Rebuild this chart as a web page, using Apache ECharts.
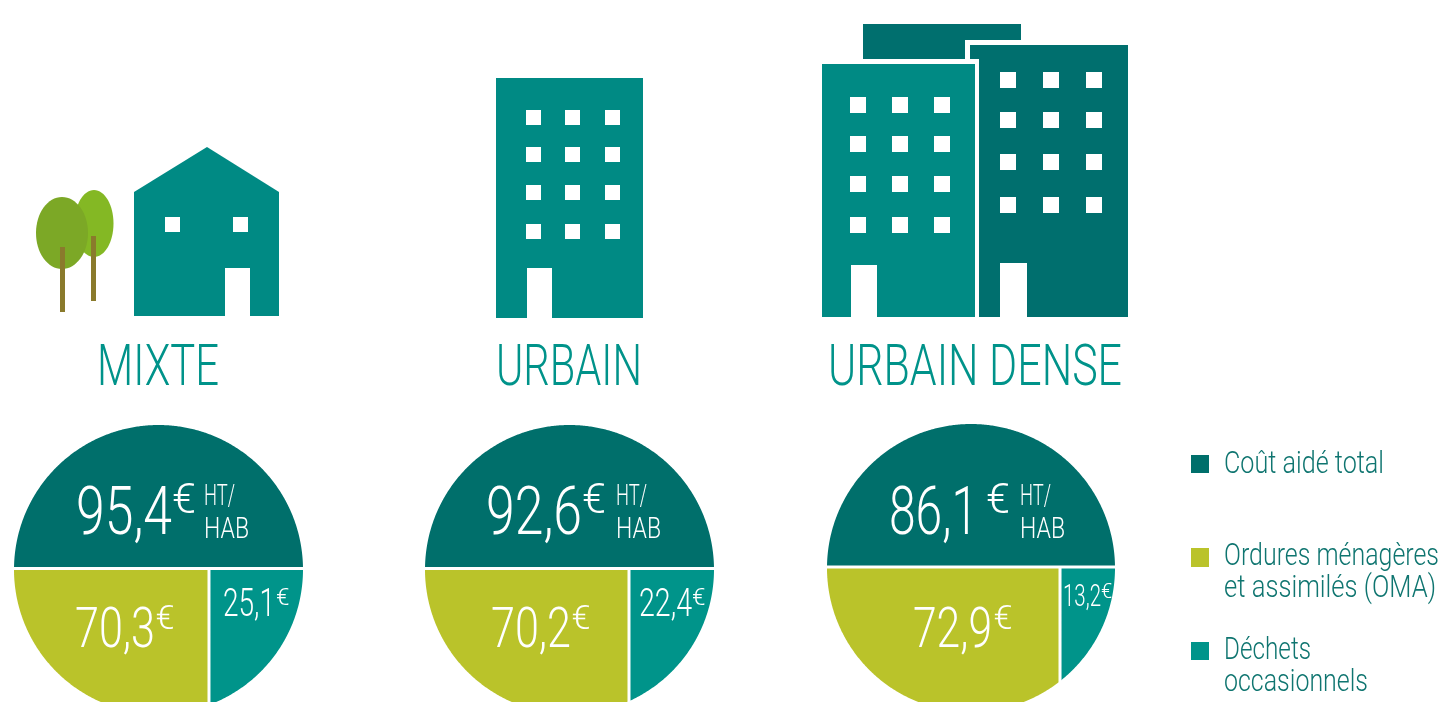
<!DOCTYPE html>
<html>
<head>
<meta charset="utf-8">
<script src="https://cdn.jsdelivr.net/npm/echarts@6/dist/echarts.min.js"></script>
<style>
html,body{margin:0;padding:0;background:#fff;overflow:hidden}
#chart{width:1443px;height:702px}
</style>
</head>
<body>
<div id="chart"></div>
<script>
// donnees
const categories = ['MIXTE', 'URBAIN', 'URBAIN DENSE'];
const coutTotal = [95.4, 92.6, 86.1];
const oma = [70.3, 70.2, 72.9];
const occasionnels = [25.1, 22.4, 13.2];
const seriesNames = ['Coût aidé total', 'Ordures ménagères et assimilés (OMA)', 'Déchets occasionnels'];

// couleurs
const DARK = '#006f6b', OLIVE = '#bac32a', TEAL = '#00948a', ICON = '#008a84', ICON_DARK = '#006f6e';
const FONT = 'Roboto';

// placement des cercles et de leurs textes
const pies = [
  {left: 14, top: 425, d: 289, xMax: 104.2,
   total: [76, 96], totalE: 172, unit: 204,
   a: [75, 80], aE: 155.5, b: [223, 52], bE: 276, bBase: 616, bSize: 39, bESize: 24},
  {left: 425, top: 425, d: 289, xMax: 99.45,
   total: [486, 96], totalE: 582, unit: 616,
   a: [491, 80], aE: 571.5, b: [639, 53], bE: 692, bBase: 616, bSize: 39, bESize: 24},
  {left: 827, top: 424, d: 288, xMax: 90.1,
   total: [889, 89], totalE: 986, unit: 1020,
   a: [913, 79], aE: 993.5, b: [1063, 38], bE: 1101, bBase: 606, bSize: 31, bESize: 20}
];

const ctx = document.createElement('canvas').getContext('2d');

// texte light resserre a la largeur voulue
function txt(str, x, base, size, width, color) {
  ctx.font = '300 ' + size + 'px ' + FONT;
  let sx = width / ctx.measureText(str).width;
  return {
    type: 'text', x: x, y: base - size * 0.25, scaleX: sx, z: 100, silent: true,
    style: {text: str, x: 0, y: 0, fill: color, fontFamily: FONT, fontWeight: 300, fontSize: size,
      align: 'left', verticalAlign: 'middle'}
  };
}
function rect(x, y, w, h, fill, z) {
  return {type: 'rect', shape: {x: x, y: y, width: w, height: h}, style: {fill: fill}, z: z || 10, silent: true};
}
function windows(xs, ys, s) {
  let out = [];
  xs.forEach(x => ys.forEach(y => out.push(rect(x, y, s, s, '#fff', 11))));
  return out;
}
function fr(v) { return String(v).replace('.', ','); }

// cercle coupe par un rectangle
function circleSlice(cx, cy, r, x0, x1, y0, y1) {
  let pts = [];
  for (let i = 0; i < 720; i++) {
    let t = i / 720 * Math.PI * 2;
    let x = cx + r * Math.cos(t), y = cy + r * Math.sin(t);
    pts.push([Math.min(x1, Math.max(x0, x)), Math.min(y1, Math.max(y0, y))]);
  }
  return pts;
}

function sliceRender(kind, xMax) {
  return function (params, api) {
    let l = api.coord([0, 0]), rgt = api.coord([xMax, 0]);
    let r = (rgt[0] - l[0]) / 2, cx = l[0] + r, cy = l[1];
    let line = cy - 1; // le trait blanc est un peu au-dessus du centre
    let split = api.coord([kind === 'teal' ? api.value(1) : api.value(0), 0])[0];
    let pts;
    if (kind === 'total') pts = circleSlice(cx, cy, r, -1e4, 1e4, -1e4, line - 1.5);
    if (kind === 'oma') pts = circleSlice(cx, cy, r, -1e4, split - 1.5, line + 1.5, 1e4);
    if (kind === 'teal') pts = circleSlice(cx, cy, r, split + 1.5, 1e4, line + 1.5, 1e4);
    let fill = kind === 'total' ? DARK : kind === 'oma' ? OLIVE : TEAL;
    return {type: 'polygon', shape: {points: pts}, style: {fill: fill}};
  };
}

let grid = [], xAxis = [], yAxis = [], series = [], graphic = [];
pies.forEach((p, i) => {
  grid.push({left: p.left, top: p.top, width: p.d, height: p.d, show: false, outerBoundsMode: 'none', containLabel: false});
  xAxis.push({gridIndex: i, type: 'value', min: 0, max: p.xMax, show: false});
  yAxis.push({gridIndex: i, type: 'value', min: -1, max: 1, show: false});
  [['total', coutTotal[i], coutTotal[i], 0], ['oma', oma[i], oma[i], 1], ['teal', occasionnels[i], oma[i], 2]].forEach(s => {
    series.push({
      type: 'custom', name: seriesNames[s[3]], xAxisIndex: i, yAxisIndex: i, coordinateSystem: 'cartesian2d',
      clip: false, silent: true, renderItem: sliceRender(s[0], p.xMax),
      encode: {x: 0}, data: [[s[1], s[2]]]
    });
  });
  // valeurs
  graphic.push(txt(fr(coutTotal[i]), p.total[0], 534, 67, p.total[1], '#fff'));
  graphic.push(txt('€', p.totalE, 513, 42, 24, '#fff'));
  graphic.push(txt('HT/', p.unit, 505, 30, 31, '#fff'));
  graphic.push(txt('HAB', p.unit, 538, 30, 45, '#fff'));
  graphic.push(txt(fr(oma[i]), p.a[0], 647, 56, p.a[1], '#fff'));
  graphic.push(txt('€', p.aE, 629, 34, 19, '#fff'));
  graphic.push(txt(fr(occasionnels[i]), p.b[0], p.bBase, p.bSize, p.b[1], '#fff'));
  graphic.push(txt('€', p.bE, p.bBase - (p.bSize - p.bESize) * 0.72, p.bESize, p.bESize * 0.56, '#fff'));
});

// titres
const titleBox = [[97, 122], [496, 146], [828, 294]];
categories.forEach((c, i) => graphic.push(txt(c, titleBox[i][0], 385, 57, titleBox[i][1], '#00938a')));

// pictos : arbres
graphic.push({type: 'ellipse', shape: {cx: 94, cy: 223.5, rx: 19.5, ry: 33.5}, style: {fill: '#84b824'}, z: 10, silent: true});
graphic.push({type: 'ellipse', shape: {cx: 62, cy: 233, rx: 26, ry: 36}, style: {fill: '#7ca826'}, z: 11, silent: true});
graphic.push(rect(60, 247, 5, 65, '#8a7a2c', 12));
graphic.push(rect(91, 236, 5, 65, '#8a7a2c', 12));
// maison
graphic.push({type: 'polygon', shape: {points: [[134, 192], [207, 147], [279, 192], [279, 316], [134, 316]]}, style: {fill: ICON}, z: 10, silent: true});
graphic.push(...windows([165, 233], [217], 15));
graphic.push(rect(225, 268, 25, 48, '#fff', 11));
// immeuble
graphic.push(rect(496, 78, 147, 240, ICON));
graphic.push(...windows([526, 565, 605], [110, 147, 185, 224], 15));
graphic.push(rect(527, 268, 25, 50, '#fff', 11));
// immeubles denses
graphic.push({type: 'polygon', shape: {points: [[863, 24], [1021, 24], [1021, 40], [965, 40], [965, 59], [863, 59]]}, style: {fill: ICON_DARK}, z: 10, silent: true});
graphic.push({type: 'polygon', shape: {points: [[970, 45], [1128, 45], [1128, 317], [979, 317], [979, 59], [970, 59]]}, style: {fill: ICON_DARK}, z: 10, silent: true});
graphic.push(rect(822, 64, 153, 253, ICON));
graphic.push(...windows([850, 892, 934], [97, 136, 176, 217], 16));
graphic.push(...windows([1000, 1043, 1086], [72, 112, 154, 197], 16));
graphic.push(rect(851, 265, 26, 52, '#fff', 11));
graphic.push(rect(1000, 263, 27, 54, '#fff', 11));

// legende
graphic.push(rect(1191, 455, 18, 18, DARK));
graphic.push(rect(1191, 548, 18, 19, OLIVE));
graphic.push(rect(1191, 642, 18, 18, TEAL));
const LEG = '#0f7570';
graphic.push(txt('Coût aidé total', 1224, 473, 32, 160, LEG));
graphic.push(txt('Ordures ménagères', 1224, 565, 32, 215, LEG));
graphic.push(txt('et assimilés (OMA)', 1224, 597, 32, 212, LEG));
graphic.push(txt('Déchets', 1224, 659, 32, 87, LEG));
graphic.push(txt('occasionnels', 1224, 691, 32, 144, LEG));

let myChart = echarts.init(document.getElementById('chart'), null, {renderer: 'canvas'});
myChart.setOption({
  animation: false,
  backgroundColor: '#fff',
  grid: grid, xAxis: xAxis, yAxis: yAxis, series: series,
  graphic: {elements: graphic}
});
</script>
</body>
</html>
